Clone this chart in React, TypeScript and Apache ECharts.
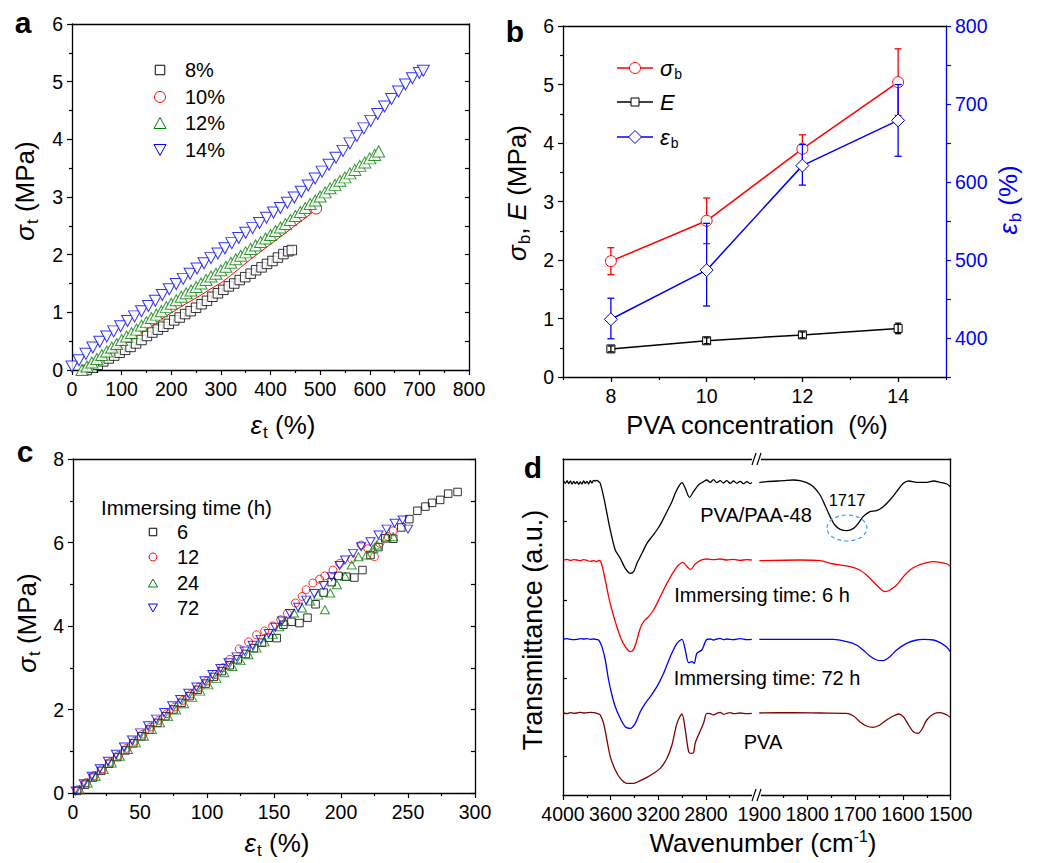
import React, { useEffect, useRef } from 'react';
import * as echarts from 'echarts';

const F = "'Liberation Sans', Arial, Helvetica, sans-serif";

// ---------------- Panel a : stress-strain for PVA concentrations ----------------
const aLegend = ['8%', '10%', '12%', '14%'];
const a8: number[][] = [[30,0.00],[41,0.04],[52,0.09],[63,0.15],[74,0.20],[85,0.25],[96,0.30],[107,0.35],[118,0.40],[129,0.46],[140,0.52],[151,0.59],[162,0.65],[173,0.70],[184,0.75],[195,0.80],[206,0.86],[217,0.91],[228,0.97],[239,1.02],[250,1.08],[261,1.14],[272,1.20],[283,1.27],[294,1.33],[305,1.39],[316,1.45],[327,1.50],[338,1.56],[349,1.61],[360,1.67],[371,1.73],[382,1.78],[393,1.84],[404,1.89],[415,1.95],[426,2.01],[436,2.06],[443,2.08]];
const a10: number[][] = [[23,0.00],[40,0.09],[60,0.20],[80,0.30],[100,0.42],[120,0.53],[140,0.64],[160,0.76],[180,0.88],[200,0.99],[220,1.10],[240,1.20],[260,1.30],[280,1.41],[300,1.51],[320,1.64],[340,1.78],[360,1.92],[380,2.05],[400,2.18],[420,2.31],[440,2.44],[460,2.57],[480,2.70],[492,2.80]];
const a12: number[][] = [[20,0.00],[30,0.06],[40,0.13],[50,0.19],[60,0.26],[70,0.32],[80,0.39],[90,0.45],[100,0.52],[110,0.58],[120,0.64],[130,0.70],[140,0.77],[150,0.83],[160,0.90],[170,0.96],[180,1.02],[190,1.09],[200,1.15],[210,1.21],[220,1.27],[230,1.33],[240,1.38],[250,1.44],[260,1.50],[270,1.56],[280,1.62],[290,1.67],[300,1.73],[310,1.79],[320,1.86],[330,1.92],[340,1.98],[350,2.04],[360,2.10],[370,2.16],[380,2.22],[390,2.28],[400,2.34],[410,2.41],[420,2.47],[430,2.53],[440,2.60],[450,2.67],[460,2.74],[470,2.81],[480,2.88],[490,2.94],[500,3.01],[510,3.08],[520,3.15],[530,3.21],[540,3.28],[550,3.34],[560,3.41],[570,3.47],[580,3.54],[590,3.60],[600,3.67],[610,3.73],[618,3.79]];
const a14: number[][] = [[0,0.06],[14,0.17],[28,0.28],[42,0.39],[56,0.49],[70,0.58],[84,0.67],[98,0.76],[112,0.85],[126,0.93],[140,1.02],[154,1.11],[168,1.20],[182,1.30],[196,1.40],[210,1.49],[224,1.58],[238,1.67],[252,1.76],[266,1.85],[280,1.94],[294,2.02],[308,2.11],[322,2.20],[336,2.29],[350,2.38],[364,2.46],[378,2.55],[392,2.64],[406,2.73],[420,2.81],[434,2.90],[448,2.99],[462,3.09],[476,3.20],[490,3.32],[504,3.44],[518,3.56],[532,3.68],[546,3.80],[560,3.93],[574,4.06],[588,4.19],[602,4.32],[616,4.44],[630,4.57],[644,4.70],[658,4.83],[672,4.95],[686,5.06],[700,5.15],[708,5.19]];

// ---------------- Panel b : mechanical properties vs PVA concentration ----------------
const bConc = [8, 10, 12, 14];
const bXLabels = [8, 10, 12, 14];
const bSigma = [1.98, 2.67, 3.90, 5.04];
const bSigmaLow = [1.75, 2.28, 3.66, 4.47];
const bSigmaHigh = [2.21, 3.06, 4.14, 5.61];
const bE = [0.48, 0.62, 0.72, 0.83];
const bELow = [0.43, 0.57, 0.67, 0.74];
const bEHigh = [0.53, 0.67, 0.77, 0.92];
const bEps = [424, 487, 621, 679];
const bEpsLow = [399, 441, 596, 633];
const bEpsHigh = [451, 547, 648, 725];

// ---------------- Panel c : stress-strain for immersing times ----------------
const cLegend = ['6', '12', '24', '72'];
const c6: number[][] = [[3,0.05],[9,0.2],[15,0.37],[21,0.53],[27,0.7],[33,0.86],[39,1.02],[45,1.19],[51,1.36],[57,1.52],[63,1.68],[69,1.84],[75,2.0],[81,2.16],[87,2.32],[93,2.47],[99,2.62],[105,2.78],[111,2.92],[117,3.06],[123,3.2],[129,3.33],[135,3.47],[141,3.6],[146,3.72],[152,3.71],[157,4.03],[163,4.1],[169,4.07],[175,4.2],[181,4.52],[187,4.8],[193,5.05],[198,5.2],[204,5.18],[210,5.16],[216,5.34],[222,5.7],[228,5.89],[233,6.1],[239,6.09],[245,6.36],[251,6.56],[257,6.76],[263,6.86],[268,6.95],[274,7.02],[280,7.17],[287,7.21]];
const c12: number[][] = [[4,0.08],[10,0.25],[16,0.42],[22,0.58],[28,0.74],[34,0.9],[40,1.07],[46,1.24],[52,1.41],[58,1.58],[64,1.74],[70,1.9],[76,2.06],[82,2.22],[88,2.37],[94,2.53],[100,2.68],[106,2.84],[112,3.0],[117,3.2],[124,3.45],[131,3.62],[137,3.79],[143,3.88],[149,4.0],[155,4.15],[160,4.3],[166,4.55],[171,4.71],[174,4.87],[179,5.03],[184,5.12],[188,5.2],[194,5.34],[199,5.5],[208,5.6],[215,5.94],[220,5.85],[225,5.66],[229,5.98],[235,6.14],[239,6.28]];
const c24: number[][] = [[5,0.08],[11,0.24],[17,0.4],[23,0.56],[29,0.72],[35,0.88],[41,1.04],[47,1.2],[53,1.36],[59,1.52],[65,1.68],[71,1.83],[77,1.99],[83,2.14],[89,2.29],[95,2.44],[101,2.59],[107,2.74],[113,2.88],[119,3.03],[125,3.17],[131,3.31],[137,3.47],[143,3.62],[149,3.8],[154,3.98],[158,4.11],[165,4.31],[171,4.43],[177,4.6],[183,4.74],[188,4.39],[192,4.79],[197,4.99],[203,5.19],[208,5.46],[213,5.66],[219,5.7],[224,5.85],[227,5.94],[234,6.13],[239,6.14]];
const c72: number[][] = [[2,0.05],[8,0.22],[14,0.4],[20,0.58],[26,0.76],[32,0.93],[38,1.1],[44,1.27],[50,1.44],[56,1.61],[62,1.77],[68,1.93],[74,2.09],[80,2.24],[86,2.39],[92,2.54],[98,2.69],[104,2.84],[110,2.98],[116,3.12],[122,3.26],[128,3.4],[134,3.54],[140,3.68],[146,3.82],[151,3.97],[156,4.12],[162,4.3],[168,4.45],[174,4.62],[180,4.78],[187,4.97],[193,5.18],[199,5.45],[203,5.58],[209,5.74],[215,5.9],[222,6.02],[228,6.18],[234,6.32],[240,6.46],[246,6.54],[250,6.32]];

// ---------------- Panel d : FTIR spectra (wavenumber, transmittance a.u.) ----------------
const dLeftLabels = [4000, 3600, 3200, 2800];
const dRightLabels = [1900, 1800, 1700, 1600, 1500];
const dYTicks = [11.5, 35, 58.5, 82];
const dBlackL: number[][] = [[3994,94.2],[3980,93.5],[3966,94.3],[3952,93.4],[3938,94.2],[3924,93.3],[3910,94.1],[3896,93.4],[3882,94.0],[3868,93.2],[3855,93.9],[3841,93.3],[3827,94.2],[3813,93.5],[3799,94.1],[3785,93.3],[3771,94.3],[3757,93.6],[3743,94.4],[3729,94.2],[3715,94.4],[3701,94.0],[3687,93.5],[3659,89.5],[3631,84.5],[3603,79.5],[3561,73.5],[3519,71.0],[3477,68.0],[3435,66.5],[3407,67.0],[3379,69.5],[3337,72.5],[3295,75.5],[3253,77.5],[3211,79.5],[3169,82.0],[3127,85.0],[3085,88.0],[3057,90.5],[3029,92.5],[3001,93.7],[2973,92.0],[2937,89.3],[2904,91.0],[2862,93.0],[2820,94.0],[2792,94.5],[2764,93.8],[2736,94.6],[2708,93.7],[2680,94.3],[2652,93.6],[2624,94.3],[2596,93.5],[2568,94.2],[2540,93.5],[2512,94.1],[2484,93.4],[2456,94.0],[2428,93.4],[2414,93.8]];
const dBlackR: number[][] = [[1900,93.7],[1885,94.0],[1850,94.3],[1829,94.5],[1815,94.3],[1801,93.7],[1787,92.5],[1773,90.0],[1763,87.0],[1752,83.5],[1742,81.0],[1731,79.7],[1717,79.3],[1703,80.0],[1693,81.5],[1683,83.5],[1669,85.0],[1655,85.3],[1641,86.5],[1627,88.5],[1613,91.0],[1599,93.5],[1588,94.2],[1571,93.8],[1550,93.8],[1536,94.2],[1522,93.8],[1508,93.3],[1501,92.5]];
const dRedL: number[][] = [[3994,70.5],[3966,70.7],[3938,70.4],[3910,70.6],[3882,70.5],[3855,70.3],[3827,70.6],[3799,70.4],[3771,70.1],[3743,70.3],[3715,70.0],[3701,70.4],[3687,70.2],[3673,69.0],[3645,64.5],[3617,59.5],[3589,55.5],[3561,52.0],[3519,47.5],[3477,44.5],[3435,43.0],[3407,43.7],[3379,46.5],[3351,50.0],[3323,52.0],[3281,53.5],[3239,55.5],[3183,59.5],[3127,63.5],[3071,67.0],[3029,69.0],[2993,69.8],[2959,68.5],[2926,67.7],[2890,69.3],[2848,70.3],[2820,70.7],[2792,70.8],[2736,70.6],[2680,70.8],[2624,70.5],[2568,70.7],[2512,70.4],[2456,70.6],[2414,70.5]];
const dRedR: number[][] = [[1900,70.3],[1815,70.5],[1773,70.3],[1745,69.3],[1710,68.5],[1690,67.5],[1676,66.0],[1662,64.0],[1648,62.0],[1637,61.0],[1627,61.5],[1613,63.0],[1599,65.5],[1585,67.5],[1571,68.7],[1550,69.7],[1536,70.0],[1522,69.8],[1508,69.3],[1501,68.7]];
const dBlueL: number[][] = [[3994,46.8],[3966,46.9],[3938,46.7],[3910,46.6],[3882,46.7],[3855,46.9],[3827,46.8],[3799,46.9],[3771,46.7],[3743,46.8],[3715,46.6],[3701,46.5],[3673,44.5],[3645,40.5],[3617,34.5],[3589,30.0],[3561,26.5],[3519,23.0],[3477,20.5],[3435,20.0],[3393,21.5],[3351,25.0],[3309,27.5],[3267,29.5],[3211,32.5],[3155,36.5],[3099,41.5],[3043,45.5],[3001,46.7],[2973,43.5],[2945,39.7],[2917,40.0],[2898,39.5],[2876,42.5],[2834,43.5],[2792,46.7],[2764,46.8],[2736,46.5],[2708,46.8],[2680,47.0],[2652,46.6],[2624,46.8],[2568,46.6],[2512,46.9],[2456,46.6],[2414,46.7]];
const dBlueR: number[][] = [[1900,46.7],[1815,46.7],[1745,46.7],[1717,46.0],[1697,45.0],[1683,43.5],[1669,41.7],[1655,40.5],[1641,40.3],[1627,41.5],[1613,43.5],[1592,45.5],[1571,46.5],[1557,46.7],[1536,46.5],[1522,45.7],[1508,44.3],[1501,43.0]];
const dPvaL: number[][] = [[3994,24.6],[3966,24.4],[3938,24.7],[3910,24.5],[3882,24.6],[3855,24.8],[3827,24.6],[3799,24.7],[3771,24.8],[3743,24.7],[3715,24.5],[3701,24.3],[3687,24.0],[3659,21.5],[3631,16.5],[3603,11.5],[3561,7.5],[3519,5.0],[3463,3.5],[3407,3.5],[3351,4.3],[3295,5.3],[3239,6.5],[3183,8.0],[3127,11.0],[3085,15.0],[3043,21.5],[3001,24.3],[2973,19.5],[2945,13.0],[2926,12.5],[2904,12.7],[2890,15.5],[2862,18.0],[2820,21.5],[2792,24.5],[2764,24.4],[2736,24.0],[2708,24.5],[2680,24.8],[2652,24.2],[2624,24.5],[2596,24.7],[2568,24.4],[2512,24.6],[2456,24.4],[2414,24.5]];
const dPvaR: number[][] = [[1900,24.6],[1829,24.7],[1773,24.6],[1717,24.5],[1703,23.7],[1690,22.0],[1676,20.7],[1662,20.3],[1648,21.0],[1634,22.5],[1620,23.7],[1609,24.3],[1599,23.5],[1588,21.0],[1578,19.0],[1568,18.5],[1561,19.5],[1550,22.5],[1536,24.3],[1522,24.7],[1508,24.0],[1501,23.3]];

// ---------------- helpers ----------------
const AL = { show: true, onZero: false, lineStyle: { color: '#000', width: 1.3 } };
const TS = { color: '#000', width: 1.2 };
const LBL = { color: '#000', fontSize: 19.5, fontFamily: F, margin: 9 };

function frameAxis(gridIndex: number, position: string, min: number, max: number, extra: any = {}) {
  return {
    gridIndex, type: 'value', position, min, max,
    axisLine: AL, axisTick: { show: false }, axisLabel: { show: false },
    splitLine: { show: false }, silent: true, ...extra,
  };
}

function errBar(color: string, half: number) {
  return (params: any, api: any) => {
    const x = api.value(0), lo = api.value(1), hi = api.value(2);
    const a = api.coord([x, hi]);
    const b = api.coord([x, lo]);
    const st = { stroke: color, lineWidth: 1.3 };
    return {
      type: 'group',
      children: [
        { type: 'line', shape: { x1: a[0], y1: a[1], x2: b[0], y2: b[1] }, style: st },
        { type: 'line', shape: { x1: a[0] - half, y1: a[1], x2: a[0] + half, y2: a[1] }, style: st },
        { type: 'line', shape: { x1: b[0] - half, y1: b[1], x2: b[0] + half, y2: b[1] }, style: st },
      ],
    };
  };
}

function richSet(size: number, color: string) {
  return {
    i: { fontStyle: 'italic', fontSize: size, fontFamily: F, fill: color, color },
    n: { fontSize: size, fontFamily: F, fill: color, color },
    s: { fontSize: Math.round(size * 0.65), fontFamily: F, fill: color, color, padding: [Math.round(size * 0.55), 0, 0, 1] },
    sup: { fontSize: Math.round(size * 0.62), fontFamily: F, fill: color, color, padding: [0, 0, Math.round(size * 0.55), 0] },
  };
}

function T(x: number, y: number, text: string, o: any = {}) {
  const color = o.fill || '#000';
  const size = o.size || 20;
  return {
    type: 'text', x, y, rotation: o.rot || 0, z: 100,
    style: {
      text, fill: color, fontSize: size, fontFamily: F,
      fontWeight: o.weight || 'normal', fontStyle: o.fstyle || 'normal',
      textAlign: o.align || 'center', textVerticalAlign: 'middle',
      rich: o.rich ? richSet(size, color) : undefined,
    },
  };
}

function buildOption() {
  const R90 = Math.PI / 2;
  const graphic: any[] = [
    // panel letters
    T(23, 22, 'a', { size: 30, weight: 'bold' }),
    T(515, 31, 'b', { size: 30, weight: 'bold' }),
    T(25, 451, 'c', { size: 30, weight: 'bold' }),
    T(533, 467, 'd', { size: 30, weight: 'bold' }),
    // axis titles
    T(25, 191, '{i|σ}{s|t}{n| (MPa)}', { size: 26, rot: R90, rich: true }),
    T(283, 425, '{i|ε}{s|t}{n| (%)}', { size: 26, rich: true }),
    T(517, 193, '{i|σ}{s|b}{n|, }{i|E}{n| (MPa)}', { size: 26, rot: R90, rich: true }),
    T(1008, 200, '{i|ε}{s|b}{n| (%)}', { size: 26, rot: R90, rich: true, fill: '#0000ff' }),
    T(757, 425, 'PVA concentration  (%)', { size: 25.5 }),
    T(27, 623, '{i|σ}{s|t}{n| (MPa)}', { size: 26, rot: R90, rich: true }),
    T(277, 843, '{i|ε}{s|t}{n| (%)}', { size: 26, rich: true }),
    T(533, 630, 'Transmittance (a.u.)', { size: 27, rot: R90 }),
    T(763, 843, '{n|Wavenumber (cm}{sup|-1}{n|)}', { size: 26, rich: true }),
    // panel a legend
    { type: 'rect', shape: { x: 155.25, y: 65.25, width: 9.5, height: 9.5 }, style: { fill: '#fff', stroke: '#000', lineWidth: 1 }, z: 100 },
    { type: 'circle', shape: { cx: 160, cy: 97, r: 5.5 }, style: { fill: '#fff', stroke: '#ff0000', lineWidth: 1 }, z: 100 },
    { type: 'polygon', shape: { points: [[154, 128.5], [166, 128.5], [160, 117.5]] }, style: { fill: '#fff', stroke: '#008000', lineWidth: 1 }, z: 100 },
    { type: 'polygon', shape: { points: [[154, 144.5], [166, 144.5], [160, 155.5]] }, style: { fill: '#fff', stroke: '#0000ff', lineWidth: 1 }, z: 100 },
    T(185, 70, aLegend[0], { align: 'left', size: 20 }),
    T(185, 97, aLegend[1], { align: 'left', size: 20 }),
    T(185, 123, aLegend[2], { align: 'left', size: 20 }),
    T(185, 150, aLegend[3], { align: 'left', size: 20 }),
    // panel b legend
    { type: 'line', shape: { x1: 617, y1: 68, x2: 653, y2: 68 }, style: { stroke: '#ff0000', lineWidth: 1.5 }, z: 100 },
    { type: 'circle', shape: { cx: 635, cy: 68, r: 5.5 }, style: { fill: '#fff', stroke: '#ff0000', lineWidth: 1 }, z: 101 },
    { type: 'line', shape: { x1: 617, y1: 102, x2: 653, y2: 102 }, style: { stroke: '#000', lineWidth: 1.5 }, z: 100 },
    { type: 'rect', shape: { x: 631, y: 98, width: 8, height: 8 }, style: { fill: '#fff', stroke: '#000', lineWidth: 1 }, z: 101 },
    { type: 'line', shape: { x1: 617, y1: 137, x2: 653, y2: 137 }, style: { stroke: '#0000ff', lineWidth: 1.5 }, z: 100 },
    { type: 'polygon', shape: { points: [[635, 130.5], [641.5, 137], [635, 143.5], [628.5, 137]] }, style: { fill: '#fff', stroke: '#0000cc', lineWidth: 1 }, z: 101 },
    T(660, 68, '{i|σ}{s|b}', { align: 'left', size: 22, rich: true }),
    T(660, 102, '{i|E}', { align: 'left', size: 22, rich: true }),
    T(660, 137, '{i|ε}{s|b}', { align: 'left', size: 22, rich: true }),
    // panel c legend
    T(101, 507, 'Immersing time (h)', { align: 'left', size: 20.5 }),
    { type: 'rect', shape: { x: 149.25, y: 528.25, width: 7.5, height: 7.5 }, style: { fill: 'none', stroke: '#000', lineWidth: 1 }, z: 100 },
    { type: 'circle', shape: { cx: 153, cy: 557, r: 4 }, style: { fill: 'none', stroke: '#ff0000', lineWidth: 1 }, z: 100 },
    { type: 'polygon', shape: { points: [[148.5, 587], [157.5, 587], [153, 579]] }, style: { fill: 'none', stroke: '#008000', lineWidth: 1 }, z: 100 },
    { type: 'polygon', shape: { points: [[148.5, 604], [157.5, 604], [153, 612]] }, style: { fill: 'none', stroke: '#0000ff', lineWidth: 1 }, z: 100 },
    T(177, 532, cLegend[0], { align: 'left', size: 20 }),
    T(177, 557, cLegend[1], { align: 'left', size: 20 }),
    T(177, 583, cLegend[2], { align: 'left', size: 20 }),
    T(177, 608, cLegend[3], { align: 'left', size: 20 }),
    // panel d annotations
    T(756, 515, 'PVA/PAA-48', { size: 20 }),
    T(847, 500, '1717', { size: 16.5 }),
    { type: 'ellipse', shape: { cx: 847, cy: 528, rx: 20, ry: 13 }, style: { fill: 'none', stroke: '#3d9df5', lineWidth: 1.2, lineDash: [4, 3] }, z: 100 },
    T(762, 595, 'Immersing time: 6 h', { size: 20 }),
    T(767, 678, 'Immersing time: 72 h', { size: 20 }),
    T(763, 742, 'PVA', { size: 20 }),
    // axis break marks
    { type: 'rect', shape: { x: 752, y: 452, width: 9, height: 14 }, style: { fill: '#fff' }, z: 99 },
    { type: 'line', shape: { x1: 752, y1: 465, x2: 756, y2: 453 }, style: { stroke: '#000', lineWidth: 1.2 }, z: 100 },
    { type: 'line', shape: { x1: 757, y1: 465, x2: 761, y2: 453 }, style: { stroke: '#000', lineWidth: 1.2 }, z: 100 },
    { type: 'rect', shape: { x: 752, y: 788, width: 9, height: 14 }, style: { fill: '#fff' }, z: 99 },
    { type: 'line', shape: { x1: 752, y1: 801, x2: 756, y2: 789 }, style: { stroke: '#000', lineWidth: 1.2 }, z: 100 },
    { type: 'line', shape: { x1: 757, y1: 801, x2: 761, y2: 789 }, style: { stroke: '#000', lineWidth: 1.2 }, z: 100 },
  ];

  const grid = [
    { left: 72, top: 24, width: 397, height: 346 },
    { left: 563, top: 26, width: 383, height: 351 },
    { left: 73, top: 459, width: 402, height: 334 },
    { left: 563, top: 459, width: 190.5, height: 336 },
    { left: 759.3, top: 459, width: 191.4, height: 336 },
  ];

  const xAxis: any[] = [
    { gridIndex: 0, type: 'value', position: 'bottom', min: 0, max: 800, interval: 100, axisLine: AL,
      axisTick: { show: true, length: 5, lineStyle: TS }, minorTick: { show: true, splitNumber: 2, length: 3, lineStyle: TS },
      axisLabel: LBL, splitLine: { show: false } },
    frameAxis(0, 'top', 0, 800),
    { gridIndex: 1, type: 'value', position: 'bottom', min: 7, max: 15, interval: 1, axisLine: AL,
      axisTick: { show: true, length: 5, lineStyle: TS, customValues: bXLabels },
      axisLabel: { ...LBL, customValues: bXLabels, formatter: (v: number) => (bXLabels.indexOf(v) >= 0 ? String(v) : '') },
      splitLine: { show: false } },
    { gridIndex: 1, type: 'value', position: 'bottom', min: 7, max: 15, interval: 1, axisLine: { show: false, onZero: false },
      axisTick: { show: true, length: 3, lineStyle: TS }, axisLabel: { show: false }, splitLine: { show: false }, silent: true },
    frameAxis(1, 'top', 7, 15),
    { gridIndex: 2, type: 'value', position: 'bottom', min: 0, max: 300, interval: 50, axisLine: AL,
      axisTick: { show: true, length: 5, lineStyle: TS }, minorTick: { show: true, splitNumber: 2, length: 3, lineStyle: TS },
      axisLabel: LBL, splitLine: { show: false } },
    frameAxis(2, 'top', 0, 300),
    { gridIndex: 3, type: 'value', position: 'bottom', min: 2400, max: 4000, interval: 400, inverse: true, axisLine: AL,
      axisTick: { show: true, length: 5, lineStyle: TS }, minorTick: { show: true, splitNumber: 2, length: 3, lineStyle: TS },
      axisLabel: { ...LBL, formatter: (v: number) => (dLeftLabels.indexOf(v) >= 0 ? String(v) : '') }, splitLine: { show: false } },
    frameAxis(3, 'top', 2400, 4000, { inverse: true }),
    { gridIndex: 4, type: 'value', position: 'bottom', min: 1500, max: 1900, interval: 100, inverse: true, axisLine: AL,
      axisTick: { show: true, length: 5, lineStyle: TS }, minorTick: { show: true, splitNumber: 2, length: 3, lineStyle: TS },
      axisLabel: { ...LBL, formatter: (v: number) => (dRightLabels.indexOf(v) >= 0 ? String(v) : '') }, splitLine: { show: false } },
    frameAxis(4, 'top', 1500, 1900, { inverse: true }),
  ];

  const yAxis: any[] = [
    { gridIndex: 0, type: 'value', position: 'left', min: 0, max: 6, interval: 1, axisLine: AL,
      axisTick: { show: true, length: 5, lineStyle: TS }, minorTick: { show: true, splitNumber: 2, length: 3, lineStyle: TS },
      axisLabel: LBL, splitLine: { show: false } },
    { gridIndex: 0, type: 'value', position: 'right', min: 0, max: 6, interval: 0.5, axisLine: AL,
      axisTick: { show: true, inside: true, length: 4, lineStyle: TS }, axisLabel: { show: false }, splitLine: { show: false }, silent: true },
    { gridIndex: 1, type: 'value', position: 'left', min: 0, max: 6, interval: 1, axisLine: AL,
      axisTick: { show: true, length: 5, lineStyle: TS }, minorTick: { show: true, splitNumber: 2, length: 3, lineStyle: TS },
      axisLabel: LBL, splitLine: { show: false } },
    { gridIndex: 1, type: 'value', position: 'right', min: 350, max: 800, interval: 50,
      axisLine: { show: true, onZero: false, lineStyle: { color: '#0000ff', width: 1.3 } },
      axisTick: { show: true, length: 5, lineStyle: { color: '#0000ff', width: 1.2 } },
      axisLabel: { ...LBL, color: '#0000ff', formatter: (v: number) => (v % 100 === 0 ? String(v) : '') }, splitLine: { show: false } },
    { gridIndex: 2, type: 'value', position: 'left', min: 0, max: 8, interval: 2, axisLine: AL,
      axisTick: { show: true, length: 5, lineStyle: TS }, minorTick: { show: true, splitNumber: 2, length: 3, lineStyle: TS },
      axisLabel: LBL, splitLine: { show: false } },
    { gridIndex: 2, type: 'value', position: 'right', min: 0, max: 8, interval: 1, axisLine: AL,
      axisTick: { show: true, inside: true, length: 4, lineStyle: TS }, axisLabel: { show: false }, splitLine: { show: false }, silent: true },
    { gridIndex: 3, type: 'value', position: 'left', min: 0, max: 100.8, axisLine: AL,
      axisTick: { show: true, inside: true, length: 4, lineStyle: TS, customValues: dYTicks },
      axisLabel: { show: false }, splitLine: { show: false } },
    { gridIndex: 4, type: 'value', position: 'right', min: 0, max: 100.8, axisLine: AL,
      axisTick: { show: false }, axisLabel: { show: false }, splitLine: { show: false } },
  ];

  const hollow = (c: string, fill = '#fff') => ({ color: fill, borderColor: c, borderWidth: 1 });
  const lastIdx = a10.length - 1;

  const series: any[] = [
    // panel a
    { type: 'scatter', name: aLegend[0], xAxisIndex: 0, yAxisIndex: 0, data: a8, symbol: 'rect', symbolSize: 9.5, itemStyle: hollow('#000'), z: 2 },
    { type: 'line', name: aLegend[1], xAxisIndex: 0, yAxisIndex: 0, data: a10, showSymbol: true, symbol: 'circle',
      symbolSize: (v: any, p: any) => (p.dataIndex === lastIdx ? 11 : 0), itemStyle: hollow('#ff0000'),
      lineStyle: { color: '#ff0000', width: 1 }, z: 3 },
    { type: 'scatter', name: aLegend[2], xAxisIndex: 0, yAxisIndex: 0, data: a12, symbol: 'triangle', symbolSize: [12, 11], itemStyle: hollow('#008000'), z: 4 },
    { type: 'scatter', name: aLegend[3], xAxisIndex: 0, yAxisIndex: 0, data: a14, symbol: 'triangle', symbolRotate: 180, symbolSize: [12, 11], itemStyle: hollow('#0000ff'), z: 5 },

    // panel b
    { type: 'custom', xAxisIndex: 2, yAxisIndex: 2, renderItem: errBar('#ff0000', 3.5), encode: { x: 0, y: [1, 2] },
      data: bConc.map((c, i) => [c, bSigmaLow[i], bSigmaHigh[i]]), z: 1, silent: true },
    { type: 'line', name: 'σb', xAxisIndex: 2, yAxisIndex: 2, data: bConc.map((c, i) => [c, bSigma[i]]), symbol: 'circle', symbolSize: 11,
      itemStyle: hollow('#ff0000'), lineStyle: { color: '#ff0000', width: 1.5 }, z: 2 },
    { type: 'line', name: 'E', xAxisIndex: 2, yAxisIndex: 2, data: bConc.map((c, i) => [c, bE[i]]), symbol: 'rect', symbolSize: 8,
      itemStyle: hollow('#000'), lineStyle: { color: '#000', width: 1.5 }, z: 3 },
    { type: 'custom', xAxisIndex: 2, yAxisIndex: 2, renderItem: errBar('#000', 3), encode: { x: 0, y: [1, 2] },
      data: bConc.map((c, i) => [c, bELow[i], bEHigh[i]]), z: 4, silent: true },
    { type: 'custom', xAxisIndex: 2, yAxisIndex: 3, renderItem: errBar('#0000ff', 3.5), encode: { x: 0, y: [1, 2] },
      data: bConc.map((c, i) => [c, bEpsLow[i], bEpsHigh[i]]), z: 5, silent: true },
    { type: 'line', name: 'εb', xAxisIndex: 2, yAxisIndex: 3, data: bConc.map((c, i) => [c, bEps[i]]), symbol: 'diamond', symbolSize: 13,
      itemStyle: hollow('#0000cc'), lineStyle: { color: '#0000ff', width: 1.5 }, z: 6 },

    // panel c
    { type: 'scatter', name: cLegend[0], xAxisIndex: 5, yAxisIndex: 4, data: c6, symbol: 'rect', symbolSize: 7.5, itemStyle: hollow('#000', 'rgba(0,0,0,0)') },
    { type: 'scatter', name: cLegend[1], xAxisIndex: 5, yAxisIndex: 4, data: c12, symbol: 'circle', symbolSize: 8, itemStyle: hollow('#ff0000', 'rgba(0,0,0,0)') },
    { type: 'scatter', name: cLegend[2], xAxisIndex: 5, yAxisIndex: 4, data: c24, symbol: 'triangle', symbolSize: [9, 8], itemStyle: hollow('#008000', 'rgba(0,0,0,0)') },
    { type: 'scatter', name: cLegend[3], xAxisIndex: 5, yAxisIndex: 4, data: c72, symbol: 'triangle', symbolRotate: 180, symbolSize: [9, 8], itemStyle: hollow('#0000ff', 'rgba(0,0,0,0)') },
  ];

  const dLine = (data: number[][], color: string, xi: number, yi: number) => ({
    type: 'line', xAxisIndex: xi, yAxisIndex: yi, data, symbol: 'none', smooth: 0.3,
    lineStyle: { color, width: 1.3 }, silent: true,
  });
  series.push(
    dLine(dBlackL, '#000000', 7, 6), dLine(dBlackR, '#000000', 9, 7),
    dLine(dRedL, '#ff0000', 7, 6), dLine(dRedR, '#ff0000', 9, 7),
    dLine(dBlueL, '#0000ff', 7, 6), dLine(dBlueR, '#0000ff', 9, 7),
    dLine(dPvaL, '#800000', 7, 6), dLine(dPvaR, '#800000', 9, 7),
  );

  return {
    animation: false,
    backgroundColor: '#fff',
    textStyle: { fontFamily: F },
    grid, xAxis, yAxis, series, graphic,
  };
}

export default function App() {
  const ref = useRef<HTMLDivElement>(null);
  useEffect(() => {
    const chart = echarts.init(ref.current as HTMLDivElement, null, { renderer: 'svg' });
    chart.setOption(buildOption() as any);
    return () => chart.dispose();
  }, []);
  return (
    <div
      ref={ref}
      style={{ position: 'absolute', left: 0, top: 0, width: 1042, height: 863, background: '#fff' }}
    />
  );
}
